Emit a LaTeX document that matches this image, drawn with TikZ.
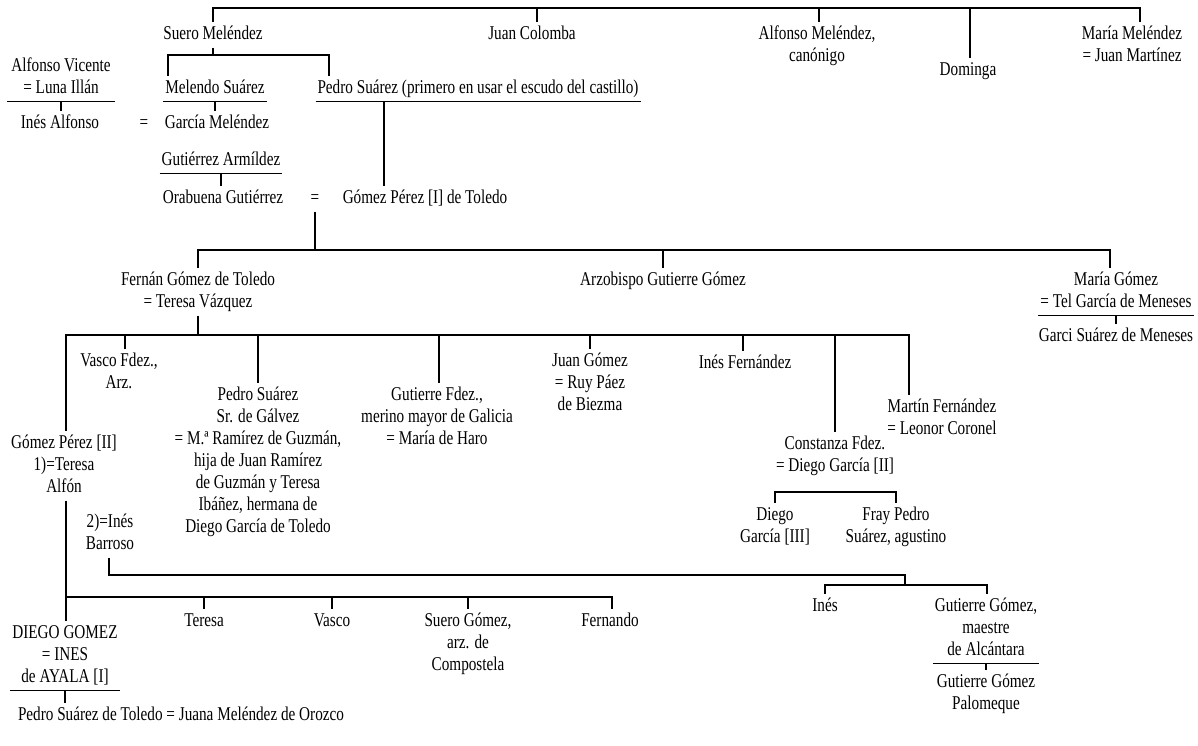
\documentclass[tikz,border=0pt]{standalone}
\usepackage{fontspec}
\setmainfont[FakeStretch=0.78]{Liberation Serif}
\newcommand\fsz{\fontsize{19.5}{22}\selectfont}
\newcommand\gn[4]{\node[lb] (#1) at (#2,{#3-9.4}) {\strut #4\strut};}
\tikzset{
  lb/.style={anchor=north, inner sep=0pt, outer sep=2pt, align=center, font=\fsz},
  ln/.style={line width=1.1pt, black},
}
\begin{document}
\begin{tikzpicture}[x=1pt,y=-1pt]
\useasboundingbox (0,0) rectangle (1198,745);
% ---------- top generation
\gn{sm}{213}{31}{Suero Meléndez}
\gn{jc}{532}{31}{Juan Colomba}
\gn{am}{817}{31}{Alfonso Meléndez,\\canónigo}
\gn{do}{968}{67}{Dominga}
\gn{mm}{1132}{31}{María Meléndez\\= Juan Martínez}
\coordinate (tL) at (213,8);
\coordinate (tR) at (1140,8);
\coordinate (tjc) at (537,8);
\coordinate (tam) at (819,8);
\coordinate (tdo) at (970,8);
\draw[ln] (sm.north) -- (tL) -- (tR) -- (tR |- mm.north);
\draw[ln] (tjc) -- (tjc |- jc.north);
\draw[ln] (tam) -- (tam |- am.north);
\draw[ln] (tdo) -- (tdo |- do.north);
% ---------- left block
\gn{av}{61}{63}{Alfonso Vicente\\= Luna Illán}
\gn{ia}{60}{120}{Inés Alfonso}
\gn{eqa}{144}{120}{=}
\gn{ms}{215}{85}{Melendo Suárez}
\gn{gme}{217}{120}{García Meléndez}
\gn{ga}{221}{157}{Gutiérrez Armíldez}
\gn{ob}{223}{195}{Orabuena Gutiérrez}
\gn{eqb}{315}{195}{=}
\gn{gp1}{425}{195}{Gómez Pérez [I] de Toledo}
\gn{ps}{478}{85}{Pedro Suárez (primero en usar el escudo del castillo)}
\draw[ln] ([xshift=-2pt]av.south west) -- ([xshift=2pt]av.south east);
\draw[ln] (av.south) -- (av.south |- ia.north);
\coordinate (s1) at (168,55);
\coordinate (s2) at (329,55);
\draw[ln] (sm.south) -- (sm.south |- s1);
\draw[ln] (s1 |- ms.north) -- (s1) -- (s2) -- (s2 |- ps.north);
\draw[ln] (ms.south west) -- (ms.south east);
\draw[ln] (ms.south) -- (ms.south |- gme.north);
\draw[ln] (ga.south west) -- (ga.south east);
\draw[ln] (ga.south) -- (ga.south |- ob.north);
\draw[ln] (ps.south west) -- (ps.south east);
\coordinate (pt) at (384,101);
\draw[ln] (ps.south -| pt) -- (pt |- gp1.north);
% ---------- children of Gomez Perez [I]
\gn{fg}{198}{277}{Fernán Gómez de Toledo\\= Teresa Vázquez}
\gn{ag}{663}{277}{Arzobispo Gutierre Gómez}
\gn{mg}{1116}{277}{María Gómez\\= Tel García de Meneses}
\gn{gs}{1116}{333}{Garci Suárez de Meneses}
\coordinate (b2L) at (198,250);
\coordinate (b2R) at (1110,250);
\draw[ln] (eqb.south) -- (eqb.south |- b2L);
\draw[ln] (b2L |- fg.north) -- (b2L) -- (b2R) -- (b2R |- mg.north);
\draw[ln] (ag.north) -- (ag.north |- b2L);
\draw[ln] (mg.south west) -- (mg.south east);
\draw[ln] (mg.south) -- (mg.south |- gs.north);
% ---------- children of Fernan Gomez
\gn{gp2}{64}{440}{Gómez Pérez [II]\\1)=Teresa\\Alfón}
\gn{vf}{119}{358}{Vasco Fdez.,\\Arz.}
\gn{psg}{258}{392}{Pedro Suárez\\Sr. de Gálvez\\= M.ª Ramírez de Guzmán,\\hija de Juan Ramírez\\de Guzmán y Teresa\\Ibáñez, hermana de\\Diego García de Toledo}
\gn{gf}{437}{392}{Gutierre Fdez.,\\merino mayor de Galicia\\= María de Haro}
\gn{jg}{590}{358}{Juan Gómez\\= Ruy Páez\\de Biezma}
\gn{if}{745}{360}{Inés Fernández}
\gn{cf}{835}{441}{Constanza Fdez.\\= Diego García [II]}
\gn{mf}{942}{404}{Martín Fernández\\= Leonor Coronel}
\coordinate (b3L) at (66,335);
\coordinate (b3R) at (909,335);
\coordinate (tvf) at (125,335);
\coordinate (tgf) at (439,335);
\coordinate (tif) at (743,335);
\draw[ln] (fg.south) -- (fg.south |- b3L);
\draw[ln] (b3L |- gp2.north) -- (b3L) -- (b3R) -- (b3R |- mf.north);
\draw[ln] (tvf) -- (tvf |- vf.north);
\draw[ln] (psg.north) -- (psg.north |- b3L);
\draw[ln] (tgf) -- (tgf |- gf.north);
\draw[ln] (jg.north) -- (jg.north |- b3L);
\draw[ln] (tif) -- (tif |- if.north);
\draw[ln] (cf.north) -- (cf.north |- b3L);
% ---------- children of Constanza
\gn{dg3}{775}{512}{Diego\\García [III]}
\gn{fp}{896}{512}{Fray Pedro\\Suárez, agustino}
\coordinate (cc1) at (775,492);
\coordinate (cc2) at (896,492);
\draw[ln] (cc1 |- dg3.north) -- (cc1) -- (cc2) -- (cc2 |- fp.north);
% ---------- Gomez Perez [II], second marriage
\gn{ib}{110}{519}{2)=Inés\\Barroso}
\gn{in}{825}{603}{Inés}
\gn{ggm}{986}{603}{Gutierre Gómez,\\maestre\\de Alcántara}
\gn{ggp}{986}{679}{Gutierre Gómez\\Palomeque}
\coordinate (bb1) at (109,575);
\coordinate (bb2) at (905,575);
\coordinate (ib1) at (825,585);
\coordinate (ib2) at (987,585);
\draw[ln] (ib.south -| bb1) -- (bb1) -- (bb2) -- (bb2 |- ib1);
\draw[ln] (ib1 |- in.north) -- (ib1) -- (ib2) -- (ib2 |- ggm.north);
\draw[ln] (ggm.south west) -- (ggm.south east);
\draw[ln] (ggm.south) -- (ggm.south |- ggp.north);
% ---------- Gomez Perez [II], first marriage
\gn{te}{204}{618}{Teresa}
\gn{va}{332}{618}{Vasco}
\gn{sg}{468}{618}{Suero Gómez,\\arz. de\\Compostela}
\gn{fe}{610}{618}{Fernando}
\gn{dgo}{65}{630}{DIEGO GOMEZ\\= INES\\de AYALA [I]}
\node[lb, anchor=north west] (pst) at (16,{712-9.4}) {\strut Pedro Suárez de Toledo = Juana Meléndez de Orozco\strut};
\coordinate (cb1) at (66,597);
\coordinate (cb2) at (612,597);
\draw[ln] (gp2.south -| cb1) -- (cb1 |- dgo.north);
\draw[ln] (cb1) -- (cb2) -- (cb2 |- fe.north);
\draw[ln] (te.north) -- (te.north |- cb1);
\draw[ln] (va.north) -- (va.north |- cb1);
\draw[ln] (sg.north) -- (sg.north |- cb1);
\draw[ln] (dgo.south west) -- (dgo.south east);
\draw[ln] (dgo.south) -- (dgo.south |- pst.north);
\end{tikzpicture}
\end{document}
